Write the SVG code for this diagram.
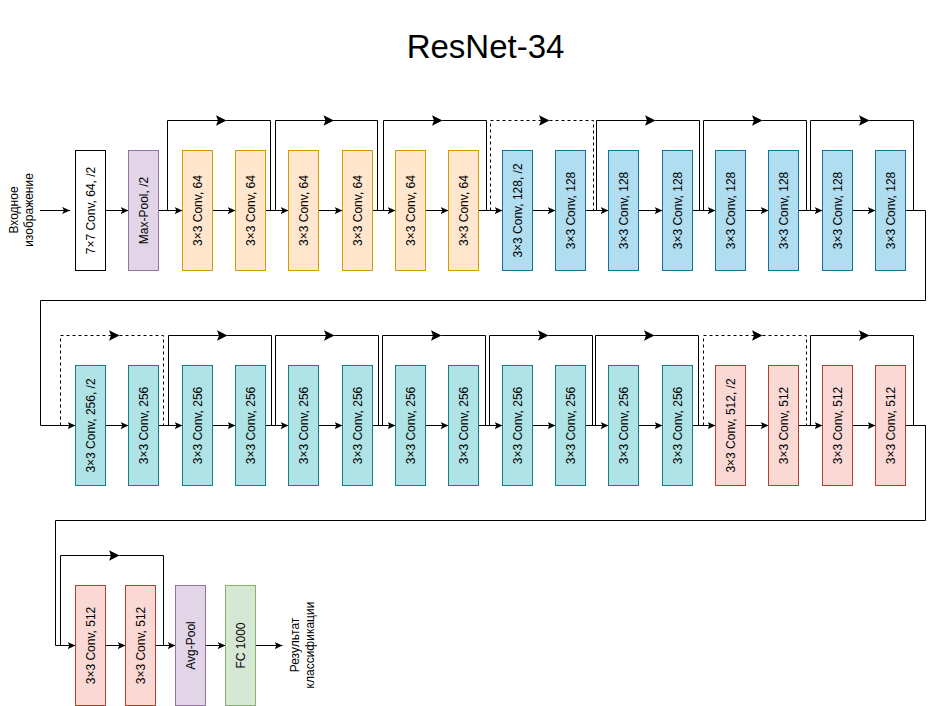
<svg xmlns="http://www.w3.org/2000/svg" width="934" height="706" viewBox="0 0 934 706">
<style>
.w{fill:#ffffff;stroke:#000000}
.p{fill:#e1d5e7;stroke:#9673a6}
.o{fill:#ffe6cc;stroke:#d79b00}
.bl{fill:#b1ddf0;stroke:#10739e}
.t{fill:#b0e3e6;stroke:#0e8088}
.r{fill:#fad9d5;stroke:#ae4132}
.g{fill:#d5e8d4;stroke:#82b366}
text{font-family:"Liberation Sans",Arial,Helvetica,sans-serif;font-size:12px;fill:#000000}
.lbl{text-anchor:middle}
.title{font-size:33px;text-anchor:middle}
.c path{fill:none;stroke:#000000;stroke-width:1}
.c .m{marker-end:url(#sa)}
.c .s{marker-end:url(#ba)}
.c .d{stroke-dasharray:3 3}
</style>
<defs>
<marker id="sa" viewBox="-8 -4 8 8" refX="0" refY="0" markerWidth="8" markerHeight="8" markerUnits="userSpaceOnUse" orient="auto">
<path d="M0,0 L-8,-3.6 L-6,0 L-8,3.6 Z" fill="#000000" stroke="none"/>
</marker>
<marker id="ba" viewBox="-11 -6 11 12" refX="0" refY="0" markerWidth="11" markerHeight="12" markerUnits="userSpaceOnUse" orient="auto">
<path d="M0,0 L-10.5,-5.3 L-8.5,0 L-10.5,5.3 Z" fill="#000000" stroke="none"/>
</marker>
</defs>
<text class="title" x="485.5" y="57.5">ResNet-34</text>
<g id="input-label"><text class="lbl" transform="translate(20.5,210) rotate(-90)"><tspan x="0" y="-3">Входное</tspan><tspan x="0" y="12">изображение</tspan></text></g>
<g id="output-label"><text class="lbl" transform="translate(302,645) rotate(-90)"><tspan x="0" y="-3">Результат</tspan><tspan x="0" y="12">классификации</tspan></text></g>
<g class="c" id="connectors">
<path class="m" d="M40,210.5 H70"/>
<path class="m" d="M105.5,210.5 H128.5"/>
<path class="m" d="M158.5,210.5 H182.5"/>
<path class="m" d="M212.5,210.5 H235.5"/>
<path class="m" d="M265.5,210.5 H288.5"/>
<path class="m" d="M318.5,210.5 H342.5"/>
<path class="m" d="M372.5,210.5 H395.5"/>
<path class="m" d="M425.5,210.5 H448.5"/>
<path class="m" d="M478.5,210.5 H502.5"/>
<path class="m" d="M532.5,210.5 H555.5"/>
<path class="m" d="M585.5,210.5 H608.5"/>
<path class="m" d="M638.5,210.5 H662.5"/>
<path class="m" d="M692.5,210.5 H715.5"/>
<path class="m" d="M745.5,210.5 H768.5"/>
<path class="m" d="M798.5,210.5 H822.5"/>
<path class="m" d="M852.5,210.5 H875.5"/>
<path class="s" d="M167.5,210.5 V120.5 H226.5"/><path d="M226.5,120.5 H270.5 V210.5"/>
<path class="s" d="M275.5,210.5 V120.5 H334"/><path d="M334,120.5 H377.5 V210.5"/>
<path class="s" d="M383.5,210.5 V120.5 H442.5"/><path d="M442.5,120.5 H486.5 V210.5"/>
<path class="s d" d="M490.5,210.5 V120.5 H549.5"/><path class="d" d="M549.5,120.5 H593.5 V210.5"/>
<path class="s" d="M596.5,210.5 V120.5 H655.5"/><path d="M655.5,120.5 H699.5 V210.5"/>
<path class="s" d="M703.5,210.5 V120.5 H762.5"/><path d="M762.5,120.5 H806.5 V210.5"/>
<path class="s" d="M810.5,210.5 V120.5 H869.5"/><path d="M869.5,120.5 H913.5 V210.5"/>
<path class="m" d="M905.5,210.5 H925.5 V300.5 H40.5 V425.5 H75.5"/>
<path class="m" d="M105.5,425.5 H128.5"/>
<path class="m" d="M158.5,425.5 H182.5"/>
<path class="m" d="M212.5,425.5 H235.5"/>
<path class="m" d="M265.5,425.5 H288.5"/>
<path class="m" d="M318.5,425.5 H342.5"/>
<path class="m" d="M372.5,425.5 H395.5"/>
<path class="m" d="M425.5,425.5 H448.5"/>
<path class="m" d="M478.5,425.5 H502.5"/>
<path class="m" d="M532.5,425.5 H555.5"/>
<path class="m" d="M585.5,425.5 H608.5"/>
<path class="m" d="M638.5,425.5 H662.5"/>
<path class="m" d="M692.5,425.5 H715.5"/>
<path class="m" d="M745.5,425.5 H768.5"/>
<path class="m" d="M798.5,425.5 H822.5"/>
<path class="m" d="M852.5,425.5 H875.5"/>
<path class="s d" d="M60.5,425.5 V335.5 H119.5"/><path class="d" d="M119.5,335.5 H163.5 V425.5"/>
<path class="s" d="M168.5,425.5 V335.5 H227.5"/><path d="M227.5,335.5 H271.5 V425.5"/>
<path class="s" d="M275.5,425.5 V335.5 H334.5"/><path d="M334.5,335.5 H378.5 V425.5"/>
<path class="s" d="M382.5,425.5 V335.5 H441.5"/><path d="M441.5,335.5 H485.5 V425.5"/>
<path class="s" d="M489.5,425.5 V335.5 H548.5"/><path d="M548.5,335.5 H592.5 V425.5"/>
<path class="s" d="M595.5,425.5 V335.5 H654.5"/><path d="M654.5,335.5 H698.5 V425.5"/>
<path class="s d" d="M703.5,425.5 V335.5 H762.5"/><path class="d" d="M762.5,335.5 H806.5 V425.5"/>
<path class="s" d="M810.5,425.5 V335.5 H869.5"/><path d="M869.5,335.5 H913.5 V425.5"/>
<path class="m" d="M905.5,425.5 H925.5 V520.5 H55.5 V645.5 H75.5"/>
<path class="m" d="M105.5,645.5 H125.5"/>
<path class="m" d="M155.5,645.5 H175.5"/>
<path class="m" d="M205.5,645.5 H225.5"/>
<path class="m" d="M255.5,645.5 H282.5"/>
<path class="s" d="M60.5,645.5 V555.5 H119.5"/><path d="M119.5,555.5 H163.5 V645.5"/>
</g>
<g id="n1"><rect class="w" x="75.5" y="150.5" width="30" height="120"/><text class="lbl" transform="translate(90.5,210.5) rotate(-90)" dy="4">7×7 Conv, 64, /2</text></g>
<g id="n2"><rect class="p" x="128.5" y="150.5" width="30" height="120"/><text class="lbl" transform="translate(143.5,210.5) rotate(-90)" dy="4">Max-Pool, /2</text></g>
<g id="n3"><rect class="o" x="182.5" y="150.5" width="30" height="120"/><text class="lbl" transform="translate(197.5,210.5) rotate(-90)" dy="4">3×3 Conv, 64</text></g>
<g id="n4"><rect class="o" x="235.5" y="150.5" width="30" height="120"/><text class="lbl" transform="translate(250.5,210.5) rotate(-90)" dy="4">3×3 Conv, 64</text></g>
<g id="n5"><rect class="o" x="288.5" y="150.5" width="30" height="120"/><text class="lbl" transform="translate(303.5,210.5) rotate(-90)" dy="4">3×3 Conv, 64</text></g>
<g id="n6"><rect class="o" x="342.5" y="150.5" width="30" height="120"/><text class="lbl" transform="translate(357.5,210.5) rotate(-90)" dy="4">3×3 Conv, 64</text></g>
<g id="n7"><rect class="o" x="395.5" y="150.5" width="30" height="120"/><text class="lbl" transform="translate(410.5,210.5) rotate(-90)" dy="4">3×3 Conv, 64</text></g>
<g id="n8"><rect class="o" x="448.5" y="150.5" width="30" height="120"/><text class="lbl" transform="translate(463.5,210.5) rotate(-90)" dy="4">3×3 Conv, 64</text></g>
<g id="n9"><rect class="bl" x="502.5" y="150.5" width="30" height="120"/><text class="lbl" transform="translate(517.5,210.5) rotate(-90)" dy="4">3×3 Conv, 128, /2</text></g>
<g id="n10"><rect class="bl" x="555.5" y="150.5" width="30" height="120"/><text class="lbl" transform="translate(570.5,210.5) rotate(-90)" dy="4">3×3 Conv, 128</text></g>
<g id="n11"><rect class="bl" x="608.5" y="150.5" width="30" height="120"/><text class="lbl" transform="translate(623.5,210.5) rotate(-90)" dy="4">3×3 Conv, 128</text></g>
<g id="n12"><rect class="bl" x="662.5" y="150.5" width="30" height="120"/><text class="lbl" transform="translate(677.5,210.5) rotate(-90)" dy="4">3×3 Conv, 128</text></g>
<g id="n13"><rect class="bl" x="715.5" y="150.5" width="30" height="120"/><text class="lbl" transform="translate(730.5,210.5) rotate(-90)" dy="4">3×3 Conv, 128</text></g>
<g id="n14"><rect class="bl" x="768.5" y="150.5" width="30" height="120"/><text class="lbl" transform="translate(783.5,210.5) rotate(-90)" dy="4">3×3 Conv, 128</text></g>
<g id="n15"><rect class="bl" x="822.5" y="150.5" width="30" height="120"/><text class="lbl" transform="translate(837.5,210.5) rotate(-90)" dy="4">3×3 Conv, 128</text></g>
<g id="n16"><rect class="bl" x="875.5" y="150.5" width="30" height="120"/><text class="lbl" transform="translate(890.5,210.5) rotate(-90)" dy="4">3×3 Conv, 128</text></g>
<g id="n17"><rect class="t" x="75.5" y="365.5" width="30" height="120"/><text class="lbl" transform="translate(90.5,425.5) rotate(-90)" dy="4">3×3 Conv, 256, /2</text></g>
<g id="n18"><rect class="t" x="128.5" y="365.5" width="30" height="120"/><text class="lbl" transform="translate(143.5,425.5) rotate(-90)" dy="4">3×3 Conv, 256</text></g>
<g id="n19"><rect class="t" x="182.5" y="365.5" width="30" height="120"/><text class="lbl" transform="translate(197.5,425.5) rotate(-90)" dy="4">3×3 Conv, 256</text></g>
<g id="n20"><rect class="t" x="235.5" y="365.5" width="30" height="120"/><text class="lbl" transform="translate(250.5,425.5) rotate(-90)" dy="4">3×3 Conv, 256</text></g>
<g id="n21"><rect class="t" x="288.5" y="365.5" width="30" height="120"/><text class="lbl" transform="translate(303.5,425.5) rotate(-90)" dy="4">3×3 Conv, 256</text></g>
<g id="n22"><rect class="t" x="342.5" y="365.5" width="30" height="120"/><text class="lbl" transform="translate(357.5,425.5) rotate(-90)" dy="4">3×3 Conv, 256</text></g>
<g id="n23"><rect class="t" x="395.5" y="365.5" width="30" height="120"/><text class="lbl" transform="translate(410.5,425.5) rotate(-90)" dy="4">3×3 Conv, 256</text></g>
<g id="n24"><rect class="t" x="448.5" y="365.5" width="30" height="120"/><text class="lbl" transform="translate(463.5,425.5) rotate(-90)" dy="4">3×3 Conv, 256</text></g>
<g id="n25"><rect class="t" x="502.5" y="365.5" width="30" height="120"/><text class="lbl" transform="translate(517.5,425.5) rotate(-90)" dy="4">3×3 Conv, 256</text></g>
<g id="n26"><rect class="t" x="555.5" y="365.5" width="30" height="120"/><text class="lbl" transform="translate(570.5,425.5) rotate(-90)" dy="4">3×3 Conv, 256</text></g>
<g id="n27"><rect class="t" x="608.5" y="365.5" width="30" height="120"/><text class="lbl" transform="translate(623.5,425.5) rotate(-90)" dy="4">3×3 Conv, 256</text></g>
<g id="n28"><rect class="t" x="662.5" y="365.5" width="30" height="120"/><text class="lbl" transform="translate(677.5,425.5) rotate(-90)" dy="4">3×3 Conv, 256</text></g>
<g id="n29"><rect class="r" x="715.5" y="365.5" width="30" height="120"/><text class="lbl" transform="translate(730.5,425.5) rotate(-90)" dy="4">3×3 Conv, 512, /2</text></g>
<g id="n30"><rect class="r" x="768.5" y="365.5" width="30" height="120"/><text class="lbl" transform="translate(783.5,425.5) rotate(-90)" dy="4">3×3 Conv, 512</text></g>
<g id="n31"><rect class="r" x="822.5" y="365.5" width="30" height="120"/><text class="lbl" transform="translate(837.5,425.5) rotate(-90)" dy="4">3×3 Conv, 512</text></g>
<g id="n32"><rect class="r" x="875.5" y="365.5" width="30" height="120"/><text class="lbl" transform="translate(890.5,425.5) rotate(-90)" dy="4">3×3 Conv, 512</text></g>
<g id="n33"><rect class="r" x="75.5" y="585.5" width="30" height="120"/><text class="lbl" transform="translate(90.5,645.5) rotate(-90)" dy="4">3×3 Conv, 512</text></g>
<g id="n34"><rect class="r" x="125.5" y="585.5" width="30" height="120"/><text class="lbl" transform="translate(140.5,645.5) rotate(-90)" dy="4">3×3 Conv, 512</text></g>
<g id="n35"><rect class="p" x="175.5" y="585.5" width="30" height="120"/><text class="lbl" transform="translate(190.5,645.5) rotate(-90)" dy="4">Avg-Pool</text></g>
<g id="n36"><rect class="g" x="225.5" y="585.5" width="30" height="120"/><text class="lbl" transform="translate(240.5,645.5) rotate(-90)" dy="4">FC 1000</text></g>
</svg>
